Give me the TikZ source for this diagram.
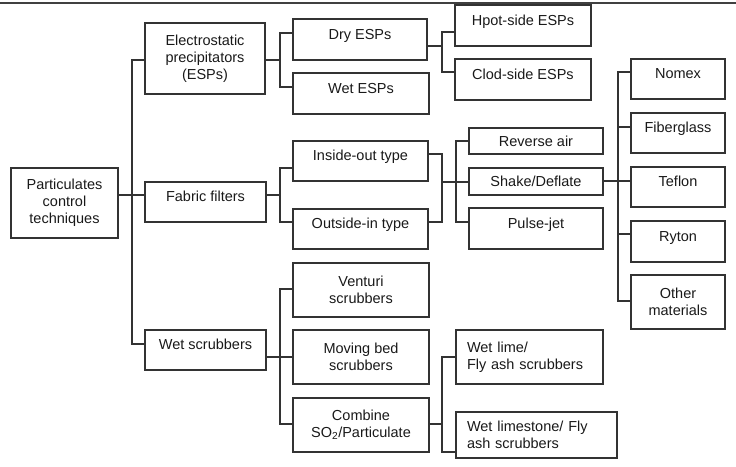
\documentclass[tikz,border=0pt]{standalone}
\usepackage{fontspec}
\setmainfont{Liberation Sans}
\usetikzlibrary{calc}

\tikzset{
  box/.style={draw=black!80, line width=1.1pt, inner sep=0pt, align=center,
    text=black!90, font=\fontsize{14.5}{17}\selectfont},
  uptext/.style={text height=11pt, text depth=12pt},
  link/.style={draw=black!80, line width=1.1pt}
}

\begin{document}
\begin{tikzpicture}[x=1pt,y=-1pt]
\useasboundingbox (0,0) rectangle (736,466);
\draw[line width=1.4pt, black!75] (0,3) -- (736,3);

% first level
\node[box, minimum width=107pt, minimum height=70pt] (root) at (64.5,203) {Particulates\\control\\techniques};
\node[box, minimum width=120pt, minimum height=71pt] (esp) at (205,58.5) {Electrostatic\\precipitators\\(ESPs)};
\node[box, uptext, minimum width=121pt, minimum height=40pt] (fab) at (205.5,202) {Fabric filters};
\node[box, uptext, minimum width=121pt, minimum height=40pt] (wet) at (205.5,350) {Wet scrubbers};

% ESPs
\node[box, uptext, minimum width=134pt, minimum height=41pt] (dry) at (360,39.5) {Dry ESPs};
\node[box, uptext, minimum width=136pt, minimum height=41pt] (wetesp) at (361,93.5) {Wet ESPs};
\node[box, uptext, minimum width=136pt, minimum height=41pt] (hpot) at (523,25.5) {Hpot-side ESPs};
\node[box, uptext, minimum width=136pt, minimum height=41pt] (clod) at (523,79.5) {Clod-side ESPs};

% fabric filters
\node[box, uptext, minimum width=135pt, minimum height=40pt] (inout) at (360.5,161) {Inside-out type};
\node[box, uptext, minimum width=135pt, minimum height=40pt] (outin) at (360.5,229) {Outside-in type};
\node[box, minimum width=134pt, minimum height=26pt] (revair) at (536,141) {Reverse air};
\node[box, minimum width=134pt, minimum height=27pt] (shake) at (536,181.5) {Shake/Deflate};
\node[box, uptext, minimum width=134pt, minimum height=41pt] (pulse) at (536,228.5) {Pulse-jet};
\node[box, uptext, minimum width=94pt, minimum height=40pt] (nomex) at (678,79) {Nomex};
\node[box, uptext, minimum width=94pt, minimum height=40pt] (fiber) at (678,133) {Fiberglass};
\node[box, uptext, minimum width=94pt, minimum height=40pt] (teflon) at (678,187) {Teflon};
\node[box, uptext, minimum width=94pt, minimum height=41pt] (ryton) at (678,241.5) {Ryton};
\node[box, minimum width=94pt, minimum height=54pt] (other) at (678,302) {Other\\materials};

% wet scrubbers
\node[box, minimum width=136pt, minimum height=54pt] (venturi) at (361,290) {Venturi\\scrubbers};
\node[box, minimum width=136pt, minimum height=54pt] (moving) at (361,357) {Moving bed\\scrubbers};
\node[box, minimum width=136pt, minimum height=54pt] (combine) at (361,425) {Combine\\SO\textsubscript{2}/Particulate};
\node[box, align=left, text width=125pt, minimum width=147pt, minimum height=54pt] (wetlime) at (529.5,357) {Wet lime/\\Fly ash scrubbers};
\node[box, align=left, text width=139pt, minimum width=161pt, minimum height=46pt] (wetlimest) at (536.5,435) {Wet limestone/ Fly\\ash scrubbers};

% bus points
\coordinate (b1) at (132,195);
\coordinate (b2) at (280,60);
\coordinate (b3) at (442,46);
\coordinate (b4) at (280,195);
\coordinate (b5) at (442,182);
\coordinate (b6) at (456,182);
\coordinate (b7) at (618,181);
\coordinate (b8) at (280,357);
\coordinate (b9) at (442,424);

% connectors
\draw[link] (root.east |- b1) -- (fab.west |- b1);
\draw[link] (esp.west |- 0,60) -| (b1) |- (wet.west |- 0,344);

\draw[link] (esp.east |- b2) -- (b2);
\draw[link] (dry.west |- 0,33) -| (b2) |- (wetesp.west |- 0,87);
\draw[link] (dry.east |- b3) -- (b3);
\draw[link] (hpot.west |- 0,32) -| (b3) |- (clod.west |- 0,72);

\draw[link] (fab.east |- b4) -- (b4);
\draw[link] (inout.west |- 0,168) -| (b4) |- (outin.west |- 0,222);
\draw[link] (inout.east |- 0,154) -| (b5) |- (outin.east |- 0,222);
\draw[link] (b5) -- (shake.west |- b6);
\draw[link] (revair.west |- 0,141) -| (b6) |- (pulse.west |- 0,222);
\draw[link] (shake.east |- b7) -- (teflon.west |- b7);
\draw[link] (nomex.west |- 0,72) -| (b7) |- (other.west |- 0,301);
\draw[link] (b7 |- 0,127) -- (fiber.west |- 0,127);
\draw[link] (b7 |- 0,234) -- (ryton.west |- 0,234);

\draw[link] (wet.east |- b8) -- (moving.west |- b8);
\draw[link] (venturi.west |- 0,289) -| (b8) |- (combine.west |- 0,424);
\draw[link] (combine.east |- b9) -- (b9);
\draw[link] (wetlime.west |- 0,357) -| (b9) |- (wetlimest.west |- 0,452);
\end{tikzpicture}
\end{document}
